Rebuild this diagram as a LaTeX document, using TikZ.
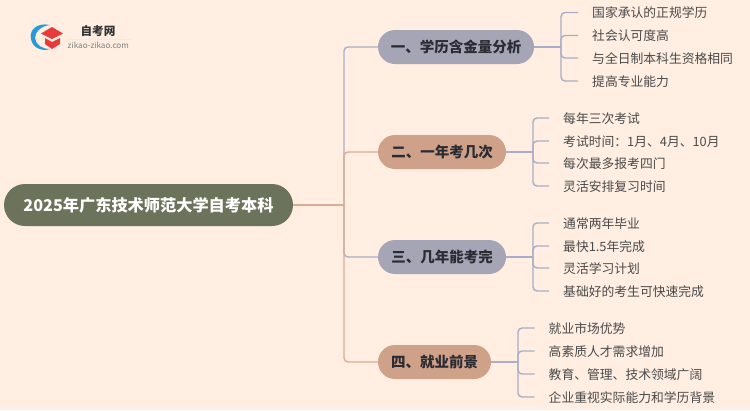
\documentclass[tikz,border=0pt]{standalone}
\usepackage{fontspec}
\setmainfont{Noto Sans CJK SC}
\definecolor{bgpeach}{HTML}{FFEEE1}
\definecolor{rootgreen}{HTML}{6B735A}
\definecolor{pillgray}{HTML}{A5A5B6}
\definecolor{pillsalmon}{HTML}{CFA189}
\definecolor{linegray}{HTML}{A9AEC6}
\definecolor{linesalmon}{HTML}{DDAB92}
\definecolor{leaftext}{HTML}{4A4A4A}
\definecolor{pilltext}{HTML}{2B2B33}
\definecolor{logoblue}{HTML}{2A9AD6}
\definecolor{logored}{HTML}{E83A3A}
\tikzset{
    rootbox/.style={fill=rootgreen,text=white,rounded corners=21pt,minimum width=289pt,minimum height=42pt,inner sep=0pt,font=\bfseries\fontsize{16.2}{18}\selectfont},
    pillbox/.style={rounded corners=17pt,minimum height=34pt,inner sep=0pt,text=pilltext,font=\bfseries\fontsize{14.5}{17}\selectfont},
    leafbox/.style={anchor=west,inner xsep=14pt,inner ysep=0pt,text height=12pt,text depth=1.2pt,text=leaftext,font=\fontsize{12.8}{15}\selectfont},
    conngray/.style={draw=linegray,line width=1.4pt,rounded corners=4pt},
    connsalmon/.style={draw=linesalmon,line width=1.4pt,rounded corners=4pt}
}
\begin{document}
\begin{tikzpicture}[x=1pt,y=-1pt]
    % latar belakang
    \fill[bgpeach] (0,0) rectangle (750,410);
    \useasboundingbox (0,0) rectangle (750,410);

    % logo
    \fill[logoblue] (50,25) .. controls (36,22) and (29,31) .. (31,39)
        .. controls (32,47) and (41,52) .. (50,49)
        .. controls (42,49) and (36,45) .. (35,38)
        .. controls (35,31) and (42,26) .. (50,25);
    \fill[logored] (52,27) -- (63,33.5) -- (52,39) -- (41,33.5) -- cycle;
    \fill[logored] (45,38) -- (52,42) -- (60,38) -- (60,44) -- (52,49) -- (45,44) -- cycle;
    \node[font=\bfseries\fontsize{11.6}{13}\selectfont,text=black!80,inner sep=0pt] (logotitle) at (98,31) {自考网};
    \node[font=\fontsize{8.1}{9}\selectfont,text=black!50,inner sep=0pt] (logosite) at (98.3,45) {zikao-zikao.com};
    \draw[black!8,line width=0.6pt] (66,39) -- (131,39);

    % simpul utama
    \node[rootbox] (root) at (148.5,205) {2025年广东技术师范大学自考本科};
    \node[pillbox,fill=pillgray,minimum width=156pt] (one) at (456,47) {一、学历含金量分析};
    \node[pillbox,fill=pillsalmon,minimum width=128pt] (two) at (442,152) {二、一年考几次};
    \node[pillbox,fill=pillgray,minimum width=128pt] (three) at (442,257) {三、几年能考完};
    \node[pillbox,fill=pillsalmon,minimum width=113pt] (four) at (434.5,362) {四、就业前景};

    % titik-titik cabang
    \coordinate (trunk) at (344,205);
    \coordinate (forkone) at (561,47);
    \coordinate (forktwo) at (533,152);
    \coordinate (forkthree) at (533,257);
    \coordinate (forkfour) at (518,362);

    % daun
    \node[leafbox] (one1) at (578,12.5) {国家承认的正规学历};
    \node[leafbox] (one2) at (578,35.5) {社会认可度高};
    \node[leafbox] (one3) at (578,58) {与全日制本科生资格相同};
    \node[leafbox] (one4) at (578,81) {提高专业能力};
    \node[leafbox] (two1) at (549,118) {每年三次考试};
    \node[leafbox] (two2) at (549,141) {考试时间：1月、4月、10月};
    \node[leafbox] (two3) at (549,163) {每次最多报考四门};
    \node[leafbox] (two4) at (549,186) {灵活安排复习时间};
    \node[leafbox] (three1) at (549,223) {通常两年毕业};
    \node[leafbox] (three2) at (549,246) {最快1.5年完成};
    \node[leafbox] (three3) at (549,268) {灵活学习计划};
    \node[leafbox] (three4) at (549,291) {基础好的考生可快速完成};
    \node[leafbox] (four1) at (534.5,328) {就业市场优势};
    \node[leafbox] (four2) at (534.5,351) {高素质人才需求增加};
    \node[leafbox] (four3) at (534.5,374) {教育、管理、技术领域广阔};
    \node[leafbox] (four4) at (534.5,397) {企业重视实际能力和学历背景};

    % garis dari akar
    \draw[conngray] (trunk) |- (one.west);
    \draw[conngray] (trunk) |- (three.west);
    \draw[connsalmon] (trunk) |- (two.west);
    \draw[connsalmon] (trunk) |- (four.west);
    \draw[connsalmon] (root.east) -- (trunk);

    % garis ke daun
    \foreach \leaf in {one1,one2,one3,one4}
        \draw[conngray] (forkone) |- (\leaf.west);
    \draw[conngray] (one.east) -- (forkone);
    \foreach \leaf in {two1,two2,two3,two4}
        \draw[conngray] (forktwo) |- (\leaf.west);
    \draw[conngray] (two.east) -- (forktwo);
    \foreach \leaf in {three1,three2,three3,three4}
        \draw[conngray] (forkthree) |- (\leaf.west);
    \draw[conngray] (three.east) -- (forkthree);
    \foreach \leaf in {four1,four2,four3,four4}
        \draw[conngray] (forkfour) |- (\leaf.west);
    \draw[conngray] (four.east) -- (forkfour);
\end{tikzpicture}
\end{document}
